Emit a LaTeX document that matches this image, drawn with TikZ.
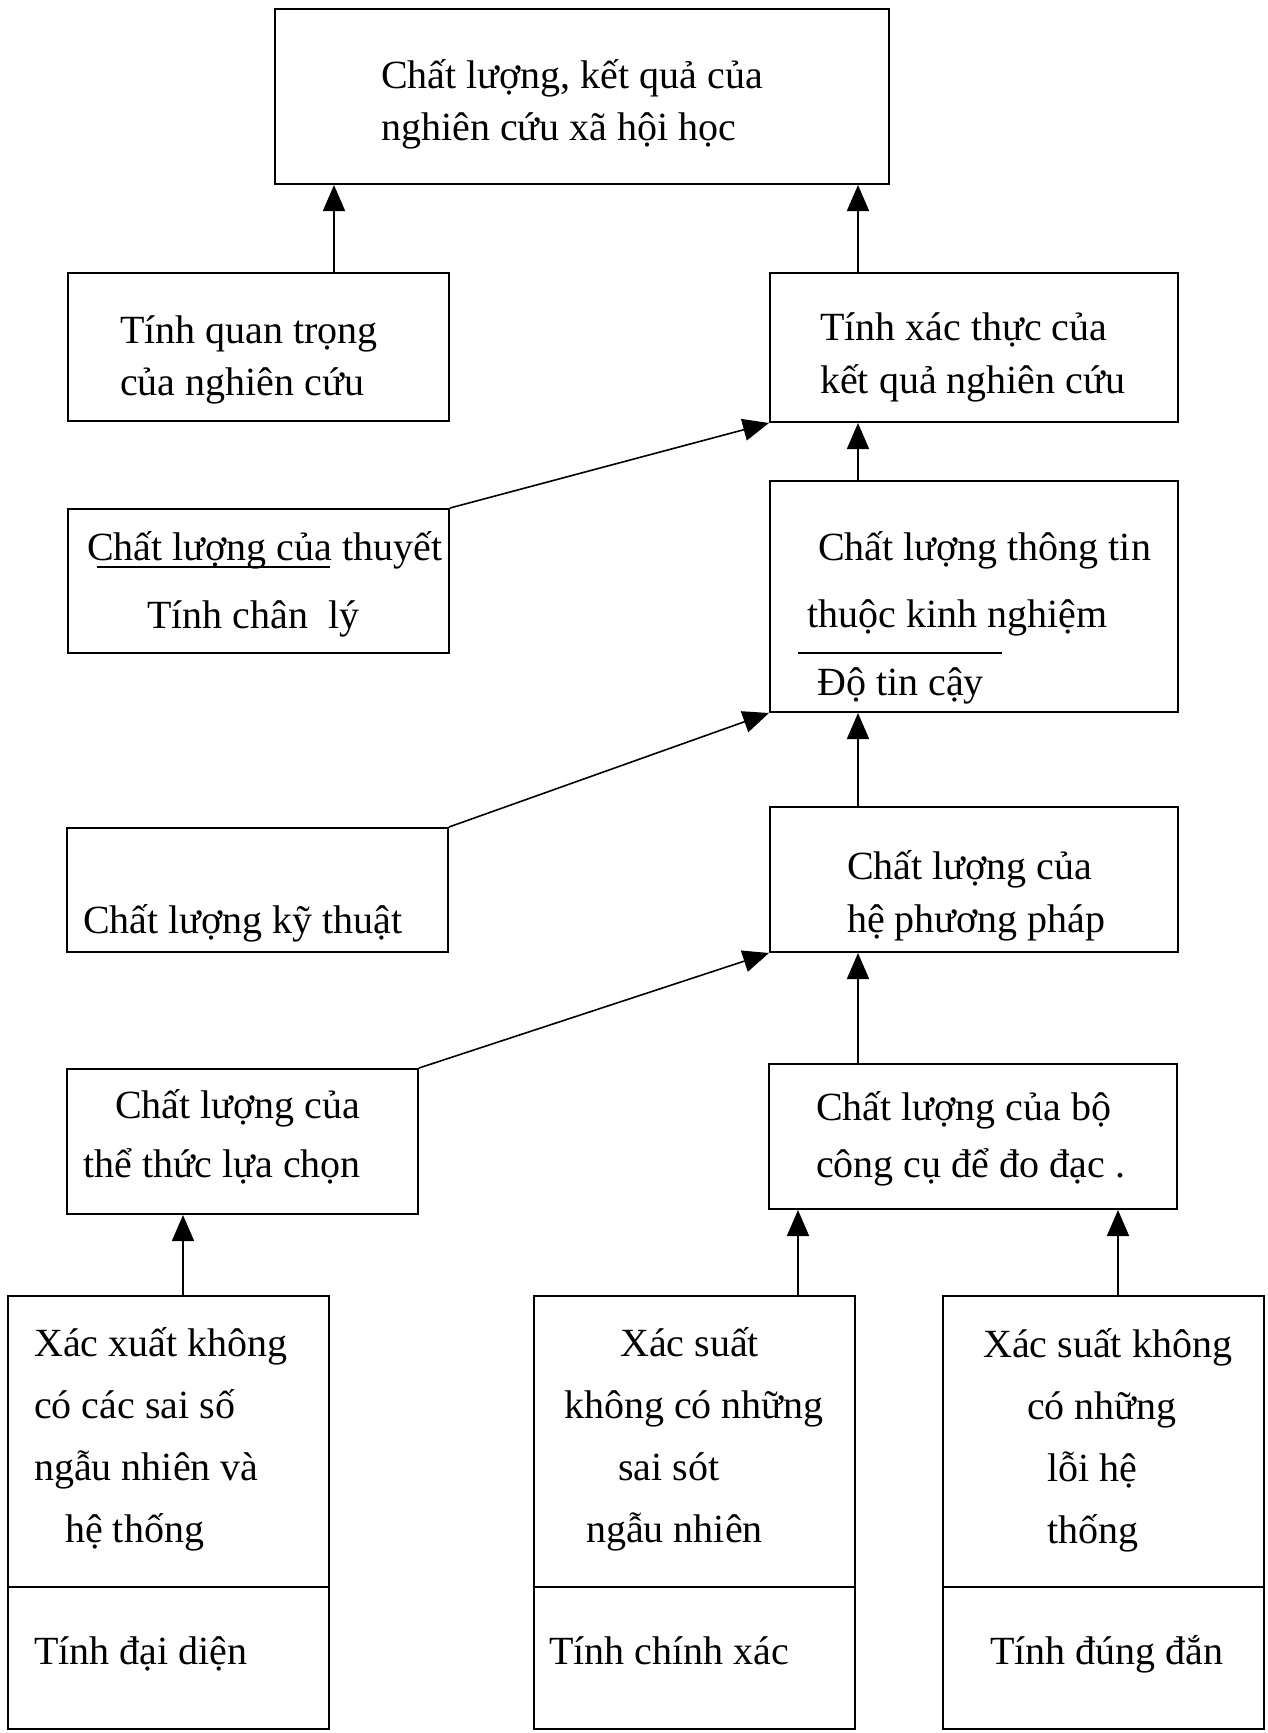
\documentclass[tikz,border=0pt]{standalone}
\usepackage{fontspec}
\setmainfont{Liberation Serif}
\usetikzlibrary{arrows.meta}

\begin{document}
\begin{tikzpicture}[
  x=1pt, y=-1pt,
  box/.style={draw, line width=2pt, inner sep=0pt},
  colbox/.style={box, minimum width=408pt},
  sidebox/.style={box, minimum width=381pt},
  basebox/.style={box, minimum width=321pt, minimum height=433pt},
  % anchored at the baseline of the last line
  txt/.style={inner sep=0pt, align=left, anchor=base west,
    font=\fontsize{40pt}{#1pt}\selectfont},
  txt/.default=52,
  arrow/.style={-{Triangle[length=26pt,width=22pt]}, line width=1.6pt},
  divider/.style={line width=2pt},
  uline/.style={line width=1.6pt}
]
\useasboundingbox (0,0) rectangle (1267,1733);
\fill[white] (0,0) rectangle (1267,1733);

% boxes
\node[box, minimum width=614pt, minimum height=175pt] (goal) at (582,96.5) {};
\node[sidebox, minimum height=148pt] (quan) at (258.5,347) {};
\node[colbox, minimum height=149pt] (xacthuc) at (974,347.5) {};
\node[sidebox, minimum height=144pt] (thuyet) at (258.5,581) {};
\node[colbox, minimum height=231pt] (thongtin) at (974,596.5) {};
\node[sidebox, minimum height=124pt] (kythuat) at (257.5,890) {};
\node[colbox, minimum height=145pt] (hpp) at (974,879.5) {};
\node[box, minimum width=351pt, minimum height=145pt] (thethuc) at (242.5,1141.5) {};
\node[colbox, minimum height=145pt] (congcu) at (973,1136.5) {};
\node[basebox] (bl) at (168,1512.5) {};
\node[basebox] (bm) at (694.5,1512.5) {};
\node[basebox] (br) at (1103.5,1512.5) {};
\draw[divider] (bl.west |- 0,1587) -- (bl.east |- 0,1587);
\draw[divider] (bm.west |- 0,1587) -- (bm.east |- 0,1587);
\draw[divider] (br.west |- 0,1587) -- (br.east |- 0,1587);

% texts
\node[txt] (goalT) at (381,140) {Chất lượng, kết quả của\\nghiên cứu xã hội học};
\node[txt] (quanT) at (120,395) {Tính quan trọng\\của nghiên cứu};
\node[txt=53] (xacthucT) at (820,393) {Tính xác thực của\\kết quả nghiên cứu};
\node[txt=68] (thuyetT) at (87,628) {Chất lượng của thuyết\\\hspace*{60pt}Tính chân\ \ lý};
\draw[uline] (97,567) -- (330,567);
\node[txt=67.5] (thongtinT) at (807,695)
  {\hspace*{11pt}Chất lượng thông tin\\thuộc kinh nghiệm\\\hspace*{10pt}Độ tin cậy};
\draw[uline] (798,653) -- (1002,653);
\node[txt] (kythuatT) at (83,933) {Chất lượng kỹ thuật};
\node[txt=53] (hppT) at (847,932) {Chất lượng của\\hệ phương pháp};
\node[txt=59] (thethucT) at (83,1177) {\hspace*{32pt}Chất lượng của\\thể thức lựa chọn};
\node[txt=57] (congcuT) at (816,1177) {Chất lượng của bộ\\công cụ để đo đạc .};
\node[txt=62] (blT) at (34,1542)
  {Xác xuất không\\có các sai số\\ngẫu nhiên và\\\hspace*{31pt}hệ thống};
\node[txt=62] (bmT) at (564,1542)
  {\hspace*{56pt}Xác suất\\không có những\\\hspace*{54pt}sai sót\\\hspace*{22pt}ngẫu nhiên};
\node[txt=62] (brT) at (983,1543)
  {Xác suất không\\\hspace*{44pt}có những\\\hspace*{64pt}lỗi hệ\\\hspace*{64pt}thống};
\node[txt] (blB) at (34,1664) {Tính đại diện};
\node[txt] (bmB) at (549,1664) {Tính chính xác};
\node[txt] (brB) at (990,1664) {Tính đúng đắn};

% arrows
\draw[arrow] ([xshift=75.5pt]quan.north) -- ([xshift=75.5pt]quan.north |- goal.south);
\draw[arrow] ([xshift=-116pt]xacthuc.north) -- ([xshift=-116pt]xacthuc.north |- goal.south);
\draw[arrow] ([xshift=-116pt]thongtin.north) -- ([xshift=-116pt]thongtin.north |- xacthuc.south);
\draw[arrow] ([xshift=-116pt]hpp.north) -- ([xshift=-116pt]hpp.north |- thongtin.south);
\draw[arrow] ([xshift=-115pt]congcu.north) -- ([xshift=-115pt]congcu.north |- hpp.south);
\draw[arrow] ([xshift=15pt]bl.north) -- ([xshift=15pt]bl.north |- thethuc.south);
\draw[arrow] ([xshift=103.5pt]bm.north) -- ([xshift=103.5pt]bm.north |- congcu.south);
\draw[arrow] ([xshift=14.5pt]br.north) -- ([xshift=14.5pt]br.north |- congcu.south);
\draw[arrow] (thuyet.north east) -- (xacthuc.south west);
\draw[arrow] (kythuat.north east) -- (thongtin.south west);
\draw[arrow] (thethuc.north east) -- (hpp.south west);
\end{tikzpicture}
\end{document}
